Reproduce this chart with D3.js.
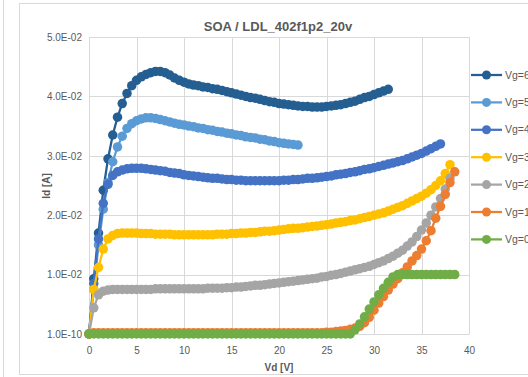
<!DOCTYPE html>
<html>
<head>
<meta charset="utf-8">
<script src="https://cdn.jsdelivr.net/npm/d3@7"></script>
<style>
  body { margin: 0; background: #fff; }
  text { font-family: "Liberation Sans", Arial, sans-serif; fill: #595959; }
</style>
</head>
<body>
<div id="root"></div>
<script>
const width = 528;
const height = 377;

// Vd sweep [V]
const vd = [0,0.5,1,1.5,2,2.5,3,3.5,4,4.5,5,5.5,6,6.5,7,7.5,8,8.5,9,9.5,
  10,10.5,11,11.5,12,12.5,13,13.5,14,14.5,15,15.5,16,16.5,17,17.5,18,18.5,19,19.5,
  20,20.5,21,21.5,22,22.5,23,23.5,24,24.5,25,25.5,26,26.5,27,27.5,28,28.5,29,29.5,
  30,30.5,31,31.5,32,32.5,33,33.5,34,34.5,35,35.5,36,36.5,37,37.5,38,38.5];

// Id [A] per gate voltage, one value per vd step
const vg6 = [0,0.0093,0.0170,0.0242,0.0295,0.0335,0.0365,0.0388,0.0405,0.0418,
  0.0427,0.0433,0.0437,0.0440,0.0442,0.0442,0.0440,0.0436,0.0431,0.0427,
  0.0424,0.0421,0.0419,0.0418,0.0416,0.0415,0.0413,0.0412,0.0410,0.0408,
  0.0406,0.0404,0.0402,0.0400,0.0398,0.0397,0.0395,0.0393,0.0391,0.0390,
  0.0388,0.0387,0.0386,0.0385,0.0384,0.0383,0.0383,0.0382,0.0382,0.0382,
  0.0383,0.0384,0.0385,0.0386,0.0388,0.0390,0.0392,0.0395,0.0398,0.0400,
  0.0403,0.0406,0.0409,0.0412];
const vg5 = [0,0.0075,0.0150,0.0210,0.0255,0.0290,0.0315,0.0333,0.0346,0.0354,
  0.0359,0.0362,0.0364,0.0364,0.0363,0.0361,0.0359,0.0357,0.0355,0.0353,
  0.0352,0.0350,0.0349,0.0347,0.0346,0.0344,0.0343,0.0341,0.0340,0.0338,
  0.0337,0.0335,0.0334,0.0332,0.0331,0.0330,0.0328,0.0327,0.0325,0.0324,
  0.0322,0.0321,0.0320,0.0319,0.0318];
const vg4 = [0,0.0085,0.0160,0.0220,0.0252,0.0267,0.0273,0.0276,0.0278,0.0279,
  0.0279,0.0279,0.0278,0.0277,0.0276,0.0275,0.0274,0.0272,0.0271,0.0270,
  0.0268,0.0267,0.0266,0.0265,0.0264,0.0263,0.0262,0.0262,0.0261,0.0260,
  0.0260,0.0259,0.0259,0.0258,0.0258,0.0258,0.0258,0.0258,0.0258,0.0258,
  0.0258,0.0259,0.0259,0.0260,0.0260,0.0261,0.0262,0.0262,0.0263,0.0264,
  0.0265,0.0266,0.0268,0.0269,0.0270,0.0272,0.0273,0.0275,0.0277,0.0278,
  0.0280,0.0282,0.0284,0.0286,0.0288,0.0290,0.0292,0.0295,0.0298,0.0301,
  0.0304,0.0308,0.0312,0.0316,0.0320];
const vg3 = [0,0.0075,0.0112,0.0143,0.0160,0.0166,0.0169,0.0170,0.0170,0.0170,
  0.0170,0.0169,0.0169,0.0169,0.0168,0.0168,0.0168,0.0168,0.0167,0.0167,
  0.0167,0.0167,0.0167,0.0167,0.0167,0.0167,0.0167,0.0168,0.0168,0.0168,
  0.0169,0.0169,0.0170,0.0170,0.0171,0.0171,0.0172,0.0173,0.0173,0.0174,
  0.0175,0.0176,0.0177,0.0178,0.0178,0.0179,0.0180,0.0181,0.0182,0.0183,
  0.0184,0.0185,0.0187,0.0188,0.0189,0.0191,0.0192,0.0194,0.0196,0.0198,
  0.0200,0.0202,0.0204,0.0207,0.0210,0.0213,0.0216,0.0220,0.0224,0.0228,
  0.0232,0.0237,0.0243,0.0250,0.0258,0.0270,0.0285];
const vg2 = [0,0.0044,0.0066,0.0072,0.0074,0.0075,0.0075,0.0075,0.0075,0.0075,
  0.0075,0.0075,0.0075,0.0075,0.0076,0.0076,0.0076,0.0076,0.0076,0.0076,
  0.0076,0.0076,0.0076,0.0076,0.0076,0.0077,0.0077,0.0077,0.0077,0.0078,
  0.0078,0.0079,0.0079,0.0080,0.0081,0.0082,0.0082,0.0083,0.0084,0.0085,
  0.0086,0.0087,0.0088,0.0089,0.0090,0.0091,0.0092,0.0093,0.0094,0.0096,
  0.0097,0.0099,0.0100,0.0102,0.0104,0.0106,0.0108,0.0110,0.0112,0.0114,
  0.0117,0.0120,0.0123,0.0127,0.0131,0.0136,0.0141,0.0148,0.0155,0.0164,
  0.0175,0.0187,0.0200,0.0214,0.0228,0.0244,0.0262];
const vg1 = [0,0.0002,0.0002,0.0002,0.0002,0.0002,0.0002,0.0002,0.0002,0.0002,
  0.0002,0.0002,0.0002,0.0002,0.0002,0.0002,0.0002,0.0002,0.0002,0.0002,
  0.0002,0.0002,0.0002,0.0002,0.0002,0.0002,0.0002,0.0002,0.0002,0.0002,
  0.0002,0.0002,0.0002,0.0002,0.0002,0.0002,0.0002,0.0002,0.0002,0.0002,
  0.0002,0.0002,0.0002,0.0002,0.0002,0.0002,0.0002,0.0002,0.0002,0.0002,
  0.0003,0.0003,0.0004,0.0005,0.0006,0.0008,0.0010,0.0013,0.0019,0.0028,
  0.0040,0.0052,0.0063,0.0074,0.0084,0.0093,0.0103,0.0113,0.0123,0.0132,
  0.0143,0.0157,0.0174,0.0195,0.0215,0.0235,0.0255,0.0273];
const vg0 = [0,0,0,0,0,0,0,0,0,0,
  0,0,0,0,0,0,0,0,0,0,
  0,0,0,0,0,0,0,0,0,0,
  0,0,0,0,0,0,0,0,0,0,
  0,0,0,0,0,0,0,0,0,0,
  0,0,0,0,0,0,0.0007,0.0017,0.0029,0.0042,
  0.0054,0.0066,0.0077,0.0087,0.0096,0.0100,0.0100,0.0100,0.0100,0.0100,
  0.0100,0.0100,0.0100,0.0100,0.0100,0.0100,0.0100,0.0100];

const seriesNames = ['Vg=6V','Vg=5V','Vg=4V','Vg=3V','Vg=2V','Vg=1V','Vg=0V'];
const seriesValues = [vg6, vg5, vg4, vg3, vg2, vg1, vg0];
const colors = ['#255E91','#5B9BD5','#4472C4','#FFC000','#A5A5A5','#ED7D31','#70AD47'];

const xTicks = [0,5,10,15,20,25,30,35,40];
const yTicks = [0,0.01,0.02,0.03,0.04,0.05];
const yTickLabels = ['1.0E-10','1.0E-02','2.0E-02','3.0E-02','4.0E-02','5.0E-02'];

const plot = {left: 89, right: 469, top: 37, bottom: 334};
const narrow = '"Liberation Sans Narrow", "Liberation Sans", sans-serif';

const svg = d3.select('#root')
  .append('svg')
  .attr('width', width).attr('height', height);

// chart frames
svg.append('line')
  .attr('x1', 3.5).attr('x2', 3.5).attr('y1', 0).attr('y2', height)
  .attr('stroke', '#d9d9d9');
svg.append('rect')
  .attr('x', 19.5).attr('y', 3.5).attr('width', 530).attr('height', 371)
  .attr('fill', 'none').attr('stroke', '#d9d9d9');

const xScale = d3.scaleLinear().domain([0, 40]).range([plot.left, plot.right]);
const yScale = d3.scaleLinear().domain([0, 0.05]).range([plot.bottom, plot.top]);

// grid
svg.append('g').selectAll('line').data(xTicks).enter()
  .append('line')
  .attr('x1', d => Math.round(xScale(d)) + 0.5).attr('x2', d => Math.round(xScale(d)) + 0.5)
  .attr('y1', plot.top).attr('y2', plot.bottom)
  .attr('stroke', '#d9d9d9');
svg.append('g').selectAll('line').data(yTicks).enter()
  .append('line')
  .attr('x1', plot.left).attr('x2', plot.right)
  .attr('y1', d => Math.round(yScale(d)) + 0.5).attr('y2', d => Math.round(yScale(d)) + 0.5)
  .attr('stroke', '#d9d9d9');

// axes
const xAxis = d3.axisBottom(xScale).tickValues(xTicks).tickSize(0).tickPadding(13);
const yAxis = d3.axisLeft(yScale).tickValues(yTicks).tickSize(0).tickPadding(7)
  .tickFormat((d, i) => yTickLabels[i]);

svg.append('g')
  .attr('transform', `translate(0, ${plot.bottom})`)
  .call(xAxis)
  .call(g => g.select('.domain').attr('stroke', '#d9d9d9'))
  .selectAll('text').attr('font-size', 10).attr('fill', '#595959');
svg.append('g')
  .attr('transform', `translate(${plot.left}, 0)`)
  .call(yAxis)
  .call(g => g.select('.domain').remove())
  .selectAll('text').attr('font-size', 10).attr('fill', '#595959');

// titles
svg.append('text')
  .attr('x', 278).attr('y', 31)
  .attr('text-anchor', 'middle')
  .attr('font-size', 13).attr('font-weight', 'bold')
  .style('font-family', narrow)
  .text('SOA / LDL_402f1p2_20v');
svg.append('text')
  .attr('x', 279).attr('y', 371)
  .attr('text-anchor', 'middle')
  .attr('font-size', 10).attr('font-weight', 'bold')
  .text('Vd [V]');
svg.append('text')
  .attr('transform', 'translate(50, 186) rotate(-90)')
  .attr('text-anchor', 'middle')
  .attr('font-size', 10).attr('font-weight', 'bold')
  .text('Id [A]');

// series
const line = d3.line()
  .x((d, i) => xScale(vd[i]))
  .y(d => yScale(d));

const gs = svg.selectAll('.series')
  .data(seriesValues).enter()
  .append('g')
  .attr('class', 'series');

gs.append('path')
  .attr('d', d => line(d))
  .attr('fill', 'none')
  .attr('stroke', (d, i) => colors[i])
  .attr('stroke-width', 2.25);

gs.each(function(d, si) {
  d3.select(this).selectAll('circle')
    .data(d).enter()
    .append('circle')
    .attr('cx', (v, i) => xScale(vd[i]))
    .attr('cy', v => yScale(v))
    .attr('r', 4.75)
    .attr('fill', colors[si]);
});

// legend
const legend = svg.selectAll('.legend')
  .data(seriesNames).enter()
  .append('g')
  .attr('class', 'legend')
  .attr('transform', (d, i) => `translate(471, ${75 + i * 27.4})`);

legend.append('line')
  .attr('x1', 0).attr('x2', 31)
  .attr('stroke', (d, i) => colors[i]).attr('stroke-width', 2.25);
legend.append('circle')
  .attr('cx', 15.5).attr('r', 4.5)
  .attr('fill', (d, i) => colors[i]);
legend.append('text')
  .attr('x', 34).attr('dy', '0.35em')
  .attr('font-size', 10.5)
  .style('font-family', narrow)
  .text(d => d);
</script>
</body>
</html>
